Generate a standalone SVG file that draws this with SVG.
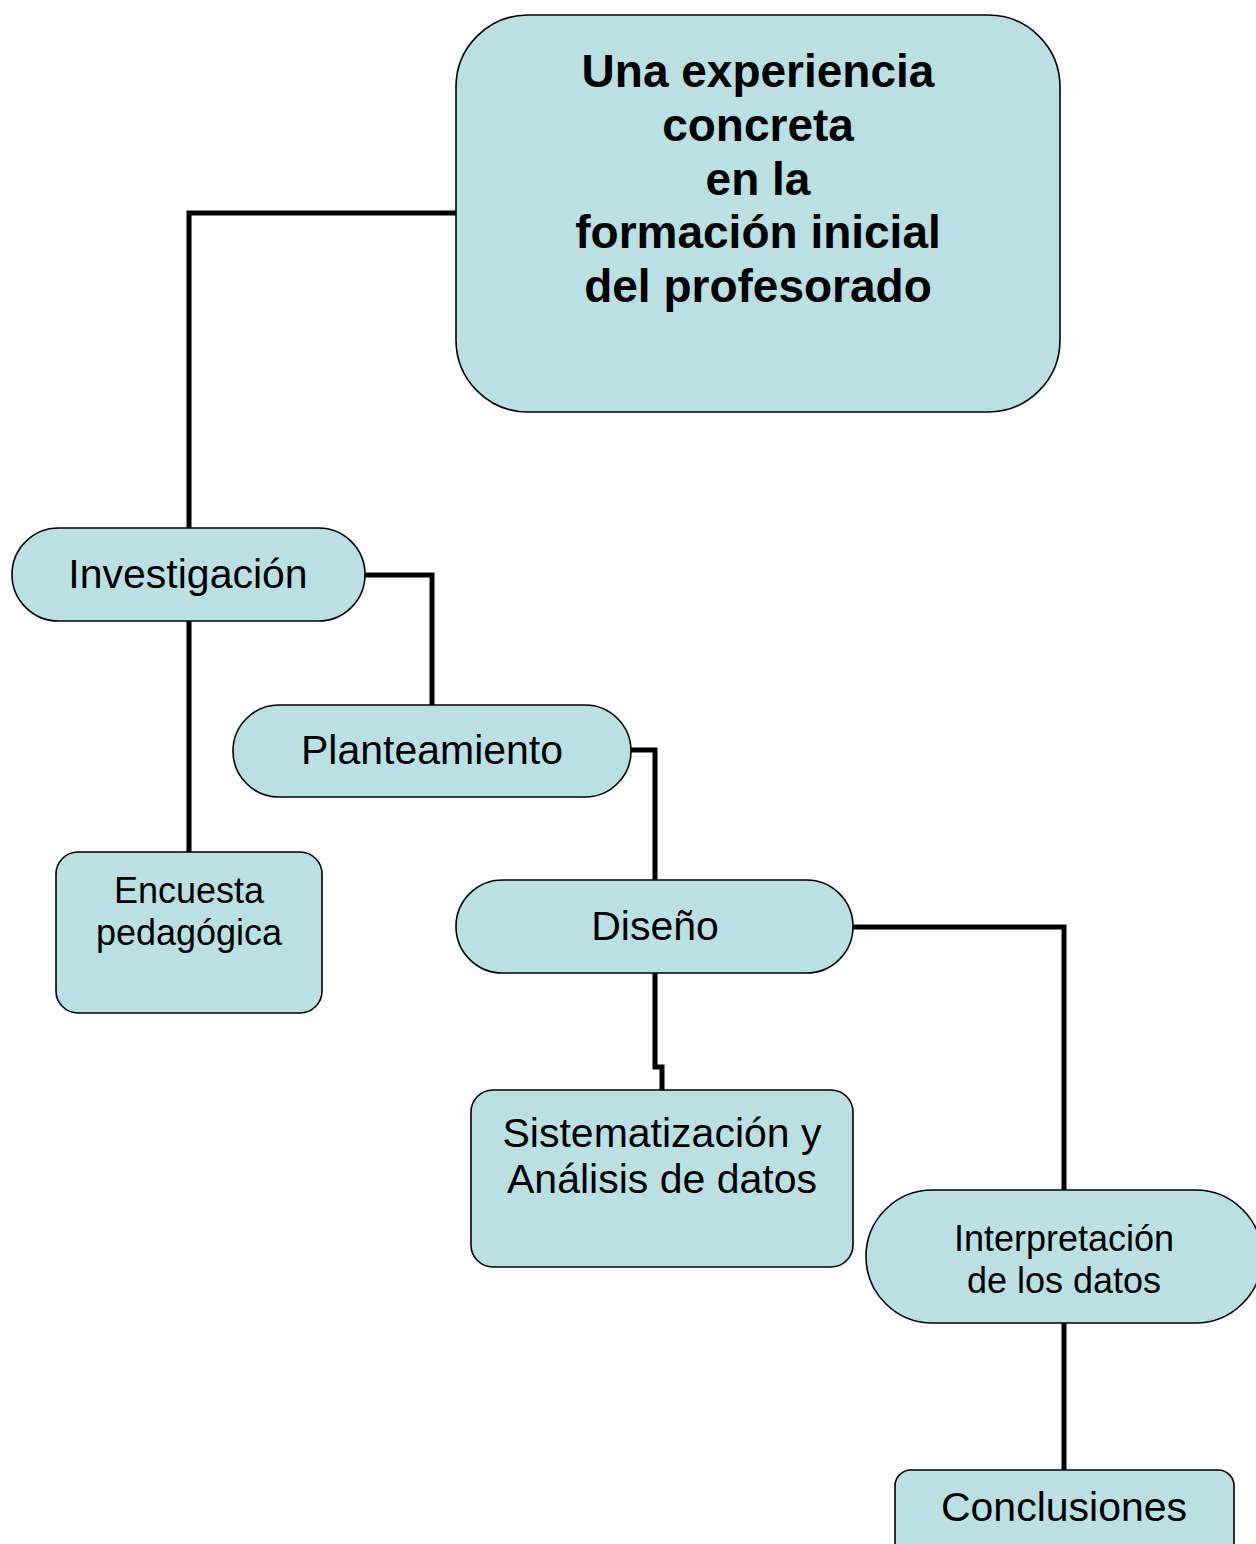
<svg xmlns="http://www.w3.org/2000/svg" width="1256" height="1544" viewBox="0 0 1256 1544">
<style>
.box{fill:#BAE0E4;stroke:#000;stroke-width:1.6}
.t{font-family:"Liberation Sans",Arial,sans-serif;text-anchor:middle;fill:#000}
.c{fill:none;stroke:#000;stroke-width:5}
</style>
<rect width="1256" height="1544" fill="#fff"/>
<g id="connectors">
<polyline class="c" points="456,213 189,213 189,528"/>
<polyline class="c" points="189,621 189,852"/>
<polyline class="c" points="365,575 432,575 432,705"/>
<polyline class="c" points="631,750 655,750 655,880"/>
<polyline class="c" points="655,973 655,1067 662,1067 662,1090"/>
<polyline class="c" points="853,927 1064,927 1064,1190"/>
<polyline class="c" points="1064,1323 1064,1470"/>
</g>
<g id="main">
<rect class="box" x="456" y="15" width="604" height="397" rx="72"/>
<text class="t" font-size="46" font-weight="bold"><tspan x="758" y="87">Una experiencia</tspan><tspan x="758" y="141">concreta</tspan><tspan x="758" y="195">en la</tspan><tspan x="758" y="248">formación inicial</tspan><tspan x="758" y="302">del profesorado</tspan></text>
</g>
<g id="investigacion">
<rect class="box" x="12" y="528" width="353" height="93" rx="46.5"/>
<text class="t" x="188" y="588" font-size="41">Investigación</text>
</g>
<g id="planteamiento">
<rect class="box" x="233" y="705" width="398" height="92" rx="46"/>
<text class="t" x="432" y="764" font-size="41">Planteamiento</text>
</g>
<g id="encuesta">
<rect class="box" x="56" y="852" width="266" height="161" rx="22"/>
<text class="t" font-size="36"><tspan x="189" y="903">Encuesta</tspan><tspan x="189" y="945">pedagógica</tspan></text>
</g>
<g id="diseno">
<rect class="box" x="456" y="880" width="397" height="93" rx="46.5"/>
<text class="t" x="655" y="940" font-size="41">Diseño</text>
</g>
<g id="sistematizacion">
<rect class="box" x="471" y="1090" width="382" height="177" rx="22"/>
<text class="t" font-size="41"><tspan x="662" y="1147">Sistematización y</tspan><tspan x="662" y="1193">Análisis de datos</tspan></text>
</g>
<g id="interpretacion">
<rect class="box" x="866" y="1190" width="396" height="133" rx="66.5"/>
<text class="t" font-size="36"><tspan x="1064" y="1251">Interpretación</tspan><tspan x="1064" y="1293">de los datos</tspan></text>
</g>
<g id="conclusiones">
<rect class="box" x="895" y="1470" width="339" height="90" rx="16"/>
<text class="t" x="1064" y="1521" font-size="41">Conclusiones</text>
</g>
</svg>
